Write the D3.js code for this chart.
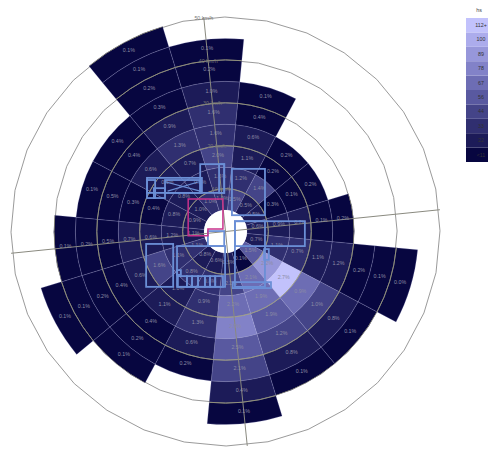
<!DOCTYPE html>
<html><head><meta charset="utf-8">
<script src="https://cdn.jsdelivr.net/npm/d3@7"></script>
<style>body{margin:0;background:#fff;} svg{display:block;font-family:"Liberation Sans",Arial,sans-serif;}</style>
</head><body>
<svg id="chart" width="488" height="451"></svg>
<script>
// ---------- data ----------
const directions = ["N","NNE","NE","ENE","E","ESE","SE","SSE","S","SSW","SW","WSW","W","WNW","NW","NNW"];
// speed bands (km/h) start at 5 and go up in steps of 5
const bandStarts = [5,10,15,20,25,30,35,40,45];
const ringSpeeds = [10,20,30,40,50];
const ringLabels = ["10 km/h","20 km/h","30 km/h","40 km/h","50 km/h"];

// percentage labels per direction (innermost band first)
const pct_N   = [1.0,1.6,2.0,1.6,1.6,1.0,0.2,0.1];
const pct_NNE = [1.5,1.2,1.1,0.6,0.4,0.1];
const pct_NE  = [0.5,1.4,0.2,0.2];
const pct_ENE = [0.5,0.3,0.1,0.2];
const pct_E   = [0.6,0.9,0.7,0.1,0.2];
const pct_ESE = [0.7,1.1,0.7,1.1,1.2,0.2,0.1,0.0];
const pct_SE  = [1.5,2.2,2.7,0.9,1.0,0.8,0.1];
const pct_SSE = [0.1,2.1,1.9,1.9,1.2,0.8,0.1];
const pct_S   = [0.5,2.2,2.2,2.9,2.5,2.1,0.4,0.1];
const pct_SSW = [0.6,0.8,0.9,1.3,0.6,0.2];
const pct_SW  = [0.8,0.8,1.0,1.1,0.4,0.2,0.1];
const pct_WSW = [1.1,1.1,1.6,0.6,0.4,0.2,0.1,0.1];
const pct_W   = [1.1,1.2,0.6,0.7,0.5,0.2,0.1];
const pct_WNW = [0.9,0.8,0.4,0.3,0.5,0.1];
const pct_NW  = [1.0,0.8,0.6,0.6,0.4,0.4];
const pct_NNW = [1.0,0.8,0.7,1.3,0.9,0.3,0.2,0.1,0.1];

// hs per cell (colour)
const hs_N   = [27,28,38,27,26,16,5,4];
const hs_NNE = [38,27,17,16,6,4];
const hs_NE  = [16,38,5,5];
const hs_ENE = [16,6,4,5];
const hs_E   = [16,17,16,5,5];
const hs_ESE = [17,27,28,17,17,6,4,3];
const hs_SE  = [50,84,118,61,38,16,4];
const hs_SSE = [6,61,60,50,38,17,5];
const hs_S   = [16,38,61,72,50,38,16,4];
const hs_SSW = [16,27,27,27,16,5];
const hs_SW  = [16,27,17,16,6,4,3];
const hs_WSW = [27,27,38,16,6,5,4,4];
const hs_W   = [16,17,16,16,6,5,4];
const hs_WNW = [16,16,6,5,6,4];
const hs_NW  = [17,16,16,16,6,6];
const hs_NNW = [27,17,16,27,16,5,4,3,3];

const legendLabels = ["<11","22","33","44","56","67","78","89","100","112+"];
const hsThresholds = [11,22,33,44,56,67,78,89,100];

// overlay outlines (km/h units, relative to centre)
const boxes = [
  [-18.3,-12.5,-5.5,-9.0],[-14.1,-12.0,-5.9,-9.0],[-18.3,-12.0,-16.4,-7.8],[-16.7,-10.1,-14.1,-7.8],
  [-5.9,-15.7,-0.3,-9.0],[-1.5,-15.7,-0.3,-9.0],
  [1.5,-14.6,9.2,-3.8],
  [2.2,-2.4,18.5,3.4],[2.2,-2.4,9.2,12.9],[9.0,4.1,10.1,6.6],[1.7,11.8,10.6,13.2],
  [-18.5,2.9,-12.2,12.9],
  [-11.3,3.4,-0.1,12.9],[-11.1,10.4,-9.0,12.9],[-9.0,10.4,-7.8,12.9],[-7.8,10.4,-6.4,12.9],
  [-6.4,10.4,-4.8,12.9],[-4.8,10.4,-3.6,12.9],[-3.6,10.4,-2.4,12.9],[-2.4,10.4,-0.6,12.9],
  [-4.1,-0.1,-0.3,3.4],[-11.3,9.0,-10.4,10.1]
];
const diagonals = [[-14.1,-11.6,-5.9,-9.4],[-13.5,-9.4,-6.2,-11.6]];
const outline = [[-8.7,-7.6],[-0.6,-7.6],[-0.6,-0.6],[-4.1,-0.6],[-4.1,1.0],[-8.7,1.0]];

// ---------- build ----------
const pctList = [pct_N,pct_NNE,pct_NE,pct_ENE,pct_E,pct_ESE,pct_SE,pct_SSE,pct_S,pct_SSW,pct_SW,pct_WSW,pct_W,pct_WNW,pct_NW,pct_NNW];
const hsList  = [hs_N,hs_NNE,hs_NE,hs_ENE,hs_E,hs_ESE,hs_SE,hs_SSE,hs_S,hs_SSW,hs_SW,hs_WSW,hs_W,hs_WNW,hs_NW,hs_NNW];
const cells = [];
directions.forEach((d,s)=>{
  pctList[s].forEach((p,i)=>{
    cells.push({dir:d, s, v0:bandStarts[i], v1:bandStarts[i]+5, pct:p, hs:hsList[s][i]});
  });
});

const W = 488, H = 451, cx = 225.5, cy = 231.5;
const rotDeg = -5.8, rot = rotDeg*Math.PI/180;
const rScale = d3.scaleLinear().domain([0,50]).range([0,214.5]);
const aScale = d3.scaleLinear().domain([0,16]).range([0,2*Math.PI]);
const palette = ["#070640","#1c1b58","#302f70","#444488","#5959a0","#6d6db4","#8282c8","#9797da","#acacec","#c2c2fc"];
const color = d3.scaleThreshold().domain(hsThresholds).range(palette);

const svg = d3.select("#chart");
svg.append("rect").attr("width",W).attr("height",H).attr("fill","#fff");
const g = svg.append("g").attr("transform",`translate(${cx},${cy})`);

// grid polygons (under)
const poly = d3.lineRadial().curve(d3.curveLinearClosed)
  .angle(d=>d[0]).radius(d=>d[1]);
g.append("g").selectAll("path").data(ringSpeeds).join("path")
  .attr("d",v=>poly(d3.range(32).map(k=>[rot+Math.PI/32+k*Math.PI/16, rScale(v)])))
  .attr("fill","none").attr("stroke","#8f8f8f").attr("stroke-width",0.9);

// cells
const arc = d3.arc()
  .innerRadius(d=>rScale(d.v0)).outerRadius(d=>rScale(d.v1))
  .startAngle(d=>aScale(d.s-0.5)+rot).endAngle(d=>aScale(d.s+0.5)+rot);
const clip = svg.append("defs").append("clipPath").attr("id","cellclip");
clip.selectAll("path").data(cells).join("path").attr("d",arc);
g.append("g").selectAll("path").data(cells).join("path")
  .attr("d",arc).attr("fill",d=>color(d.hs))
  .attr("stroke","rgba(170,170,220,0.35)").attr("stroke-width",0.6);

// rings over cells
g.append("g").attr("clip-path","url(#cellclip)").selectAll("circle").data(ringSpeeds).join("circle")
  .attr("r",v=>rScale(v)).attr("fill","none").attr("stroke","#a3a276").attr("stroke-width",1);

// hole
g.append("circle").attr("r",rScale(5)).attr("fill","#fff");

// axes
const R = rScale(50)+1;
[0, Math.PI/2].forEach(a0=>{
  const a = rot + a0;
  g.append("line").attr("x1",-Math.sin(a)*R).attr("y1",Math.cos(a)*R)
    .attr("x2",Math.sin(a)*R).attr("y2",-Math.cos(a)*R)
    .attr("stroke","#8a8a80").attr("stroke-width",1);
});

// cell labels
g.append("g").selectAll("text").data(cells).join("text")
  .attr("x",d=>Math.sin(aScale(d.s)+rot)*rScale(d.v0+2.5))
  .attr("y",d=>-Math.cos(aScale(d.s)+rot)*rScale(d.v0+2.5))
  .attr("text-anchor","middle").attr("font-size",5.3).attr("fill","#8c8ca4")
  .text(d=>d3.format(".1f")(d.pct)+"%");

// ring labels
g.append("g").selectAll("text").data(ringSpeeds).join("text")
  .attr("x",(v)=>Math.sin(rot)*rScale(v)).attr("y",v=>-Math.cos(rot)*rScale(v))
  .attr("dy","0.35em").attr("text-anchor","middle").attr("font-size",5.3).attr("fill","#777")
  .text((v,i)=>ringLabels[i]);

// overlays
const ov = g.append("g").attr("fill","none");
ov.selectAll("rect").data(boxes).join("rect")
  .attr("x",b=>rScale(b[0])).attr("y",b=>rScale(b[1]))
  .attr("width",b=>rScale(b[2])-rScale(b[0])).attr("height",b=>rScale(b[3])-rScale(b[1]))
  .attr("stroke","#6b8fd6").attr("stroke-width",1.8);
ov.selectAll("line").data(diagonals).join("line")
  .attr("x1",b=>rScale(b[0])).attr("y1",b=>rScale(b[1])).attr("x2",b=>rScale(b[2])).attr("y2",b=>rScale(b[3]))
  .attr("stroke","#6b8fd6").attr("stroke-width",1.2);
ov.append("path").attr("d",d3.line().x(p=>rScale(p[0])).y(p=>rScale(p[1])).curve(d3.curveLinearClosed)(outline))
  .attr("stroke","#c8328c").attr("stroke-width",1.5);

// legend
const lg = svg.append("g");
const ly = d3.scaleBand().domain(d3.range(10).reverse()).range([18,162]);
lg.append("text").attr("x",479).attr("y",12).attr("text-anchor","middle").attr("font-size",5.3).attr("fill","#444").text("hs");
lg.selectAll("rect").data(d3.range(10)).join("rect")
  .attr("x",466).attr("y",i=>ly(i)).attr("width",24).attr("height",ly.bandwidth())
  .attr("fill",i=>palette[i]);
lg.selectAll("text.l").data(d3.range(10)).join("text").attr("class","l")
  .attr("x",481).attr("y",i=>ly(i)+ly.bandwidth()/2).attr("dy","0.35em")
  .attr("text-anchor","middle").attr("font-size",5.3).attr("fill","#333")
  .text(i=>legendLabels[i]);
</script>
</body></html>
